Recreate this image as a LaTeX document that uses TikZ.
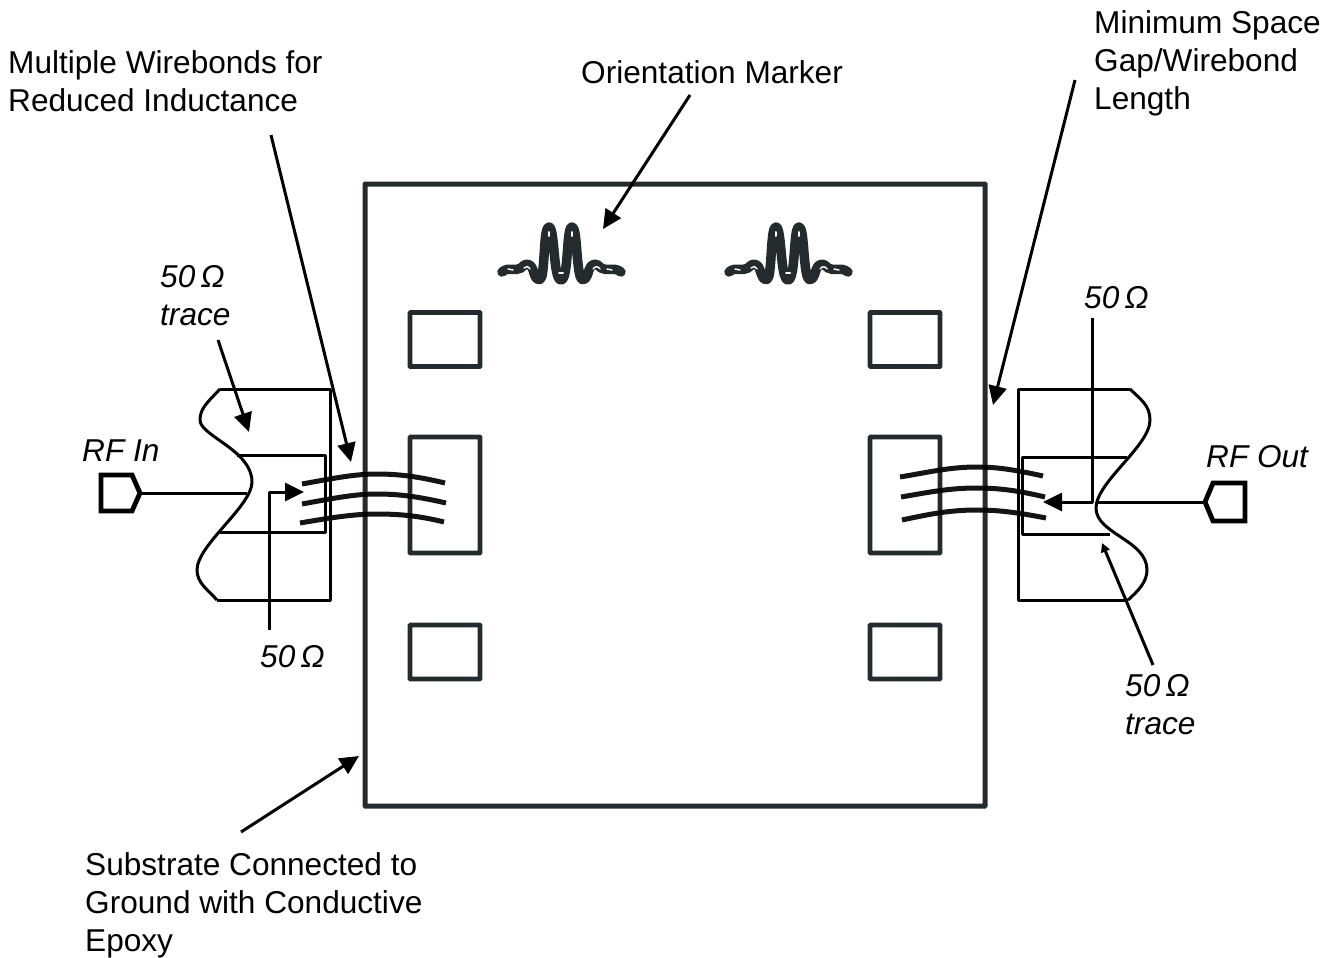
\documentclass[tikz,border=0pt]{standalone}
\usepackage{fontspec}
\setmainfont{Liberation Sans}
\usetikzlibrary{arrows.meta}
\definecolor{dk}{HTML}{232B2F}
\tikzset{
  lbl/.style={inner sep=0pt,anchor=west,align=left,font=\fontsize{31.6}{38}\selectfont},
  ital/.style={inner sep=0pt,anchor=west,align=left,font=\fontsize{31.6}{38}\selectfont\itshape},
  ptr/.style={line width=3pt,black,-{Triangle[length=19pt,width=18pt]}},
  smallptr/.style={line width=3pt,black,-{Triangle[length=9pt,width=9pt]}},
  tline/.style={line width=3pt,black,line join=round},
  wire/.style={line width=3pt,black},
  bond/.style={line width=5pt,black,opacity=.92},
  sub/.style={draw=dk,line width=5pt,fill=white,inner sep=0pt,rounded corners=.5pt},
  padbox/.style={draw=dk,line width=4.6pt,inner sep=0pt,minimum width=70pt,minimum height=54pt,rounded corners=.5pt},
  bigpad/.style={padbox,minimum height=116pt},
  port/.style={draw=black,line width=4.8pt,line join=miter},
}
\newcommand{\wavemark}[1]{%
  \begin{scope}[shift={(#1,0)}]
    \draw[dk,line width=9.5pt,line join=round,line cap=round]
      (5,272) .. controls (12,266) and (18,272) .. (24,268)
      .. controls (28,263) and (33,262) .. (36,270)
      .. controls (38,278) and (42,284) .. (45,276)
      .. controls (48,260) and (47,227) .. (52,227)
      .. controls (58,227) and (56,280) .. (64,280)
      .. controls (72,280) and (69,227) .. (75,227)
      .. controls (80,227) and (79,260) .. (83,276)
      .. controls (86,284) and (90,278) .. (92,270)
      .. controls (95,262) and (100,263) .. (104,268)
      .. controls (110,272) and (116,266) .. (124,272);
    \draw[white,line width=2pt,line cap=round] (52,232) -- (52,236);
    \draw[white,line width=2pt,line cap=round] (75,232) -- (75,236);
    \draw[white,line width=2pt,line cap=round] (62,273) -- (66,273);
    \draw[white,line width=1.4pt,line cap=round] (27,268) .. controls (29,266) and (31,266) .. (33,269);
    \draw[white,line width=1.4pt,line cap=round] (96,269) .. controls (98,266) and (101,266) .. (103,269);
    \draw[white,line width=1.4pt,line cap=round] (11,269) -- (16,270);
    \draw[white,line width=1.4pt,line cap=round] (110,269) -- (115,270);
  \end{scope}}
\begin{document}
\begin{tikzpicture}[x=1pt,y=-1pt]
\useasboundingbox (0,0) rectangle (1333,958);

% substrate and pads
\node[sub,minimum width=620pt,minimum height=622pt] (substrate) at (675,495) {};
\node[padbox] (padTL) at (445,339.5) {};
\node[bigpad] (padML) at (445,495) {};
\node[padbox] (padBL) at (445,652) {};
\node[padbox] (padTR) at (905,339.5) {};
\node[bigpad] (padMR) at (905,495) {};
\node[padbox] (padBR) at (905,652) {};

% orientation markers
\wavemark{497}
\wavemark{724}

% left trace
\draw[tline] (220,389) -- (330,389) -- (330,600) -- (217,600);
\draw[tline]
  (220,389) .. controls (208,402) and (200,408) .. (200,420)
  .. controls (200,436) and (252,450) .. (252,482)
  .. controls (252,506) and (197,545) .. (197,570)
  .. controls (197,583) and (208,590) .. (217,600);
\draw[tline] (237,455) -- (325,455) -- (325,532) -- (220,532);

% right trace
\draw[tline] (1130,389) -- (1018,389) -- (1018,600) -- (1128,600);
\draw[tline]
  (1130,389) .. controls (1140,399) and (1150,405) .. (1150,420)
  .. controls (1150,446) and (1096,482) .. (1096,508)
  .. controls (1096,534) and (1147,540) .. (1147,570)
  .. controls (1147,582) and (1138,591) .. (1128,600);
\draw[tline] (1127,457) -- (1022,457) -- (1022,534) -- (1110,534);

% ports
\draw[port] (101,475) -- (132,475) -- (140,493) -- (132,511) -- (101,511) -- cycle;
\draw[port] (1245,483) -- (1213,483) -- (1205,502) -- (1213,521) -- (1245,521) -- cycle;
\coordinate (inTip) at (140,493);
\coordinate (inEnd) at (247,493);
\coordinate (outTip) at (1205,502);
\coordinate (outEnd) at (1096,502);
\draw[wire] (inTip) -- (inEnd);
\draw[wire] (outTip) -- (outEnd);

% wirebonds
\draw[bond] (302,484) .. controls (335,478) and (355,474) .. (377,474) .. controls (400,474) and (420,477) .. (445,483);
\draw[bond] (302,504) .. controls (335,498) and (355,494) .. (377,494) .. controls (400,494) and (420,497) .. (446,503);
\draw[bond] (300,523) .. controls (335,517) and (355,514) .. (377,514) .. controls (400,514) and (420,516) .. (444,522);
\draw[bond] (900,477) .. controls (930,472) and (950,467) .. (977,467) .. controls (1000,467) and (1020,471) .. (1043,476);
\draw[bond] (901,497) .. controls (930,492) and (950,488) .. (977,488) .. controls (1000,488) and (1020,491) .. (1045,497);
\draw[bond] (902,520) .. controls (930,514) and (950,510) .. (977,510) .. controls (1000,510) and (1020,513) .. (1046,518);

% labels
\node[lbl] (multi) at (8,81) {Multiple Wirebonds for\\Reduced Inductance};
\node[lbl] (orient) at (581,72) {Orientation Marker};
\node[lbl] (minsp) at (1094,63) {Minimum Space\\Gap/Wirebond\\Length};
\node[lbl] (subst) at (85,905) {Substrate Connected to\\Ground with Conductive\\Epoxy};
\node[ital] (rfin) at (82,451) {RF In};
\node[ital] (rfout) at (1206,457) {RF Out};
\node[ital] (traceL) at (160,296) {50\,Ω\\trace};
\node[ital] (omegaL) at (260,657) {50\,Ω};
\node[ital] (omegaR) at (1084,298) {50\,Ω};
\node[ital] (traceR) at (1125,705) {50\,Ω\\trace};

% pointers
\coordinate (a1s) at (271,135); \coordinate (a1e) at (351,462);
\coordinate (a2s) at (218,340); \coordinate (a2e) at (249,432);
\coordinate (a3s) at (690,95);  \coordinate (a3e) at (603,229);
\coordinate (a4s) at (1075,80); \coordinate (a4e) at (993,405);
\coordinate (a5s) at (241,832); \coordinate (a5e) at (359,756);
\coordinate (a6s) at (1153,665); \coordinate (a6e) at (1102,543);
\coordinate (a7s) at (269,630); \coordinate (a7c) at (269,492); \coordinate (a7e) at (304,492);
\coordinate (a8s) at (1092,318); \coordinate (a8c) at (1092,502); \coordinate (a8e) at (1043,502);
\draw[ptr] (a1s) -- (a1e);
\draw[ptr] (a2s) -- (a2e);
\draw[ptr] (a3s) -- (a3e);
\draw[ptr] (a4s) -- (a4e);
\draw[ptr] (a5s) -- (a5e);
\draw[smallptr] (a6s) -- (a6e);
\draw[ptr,line join=round] (a7s) -- (a7c) -- (a7e);
\draw[ptr,line join=round] (a8s) -- (a8c) -- (a8e);
\end{tikzpicture}
\end{document}
